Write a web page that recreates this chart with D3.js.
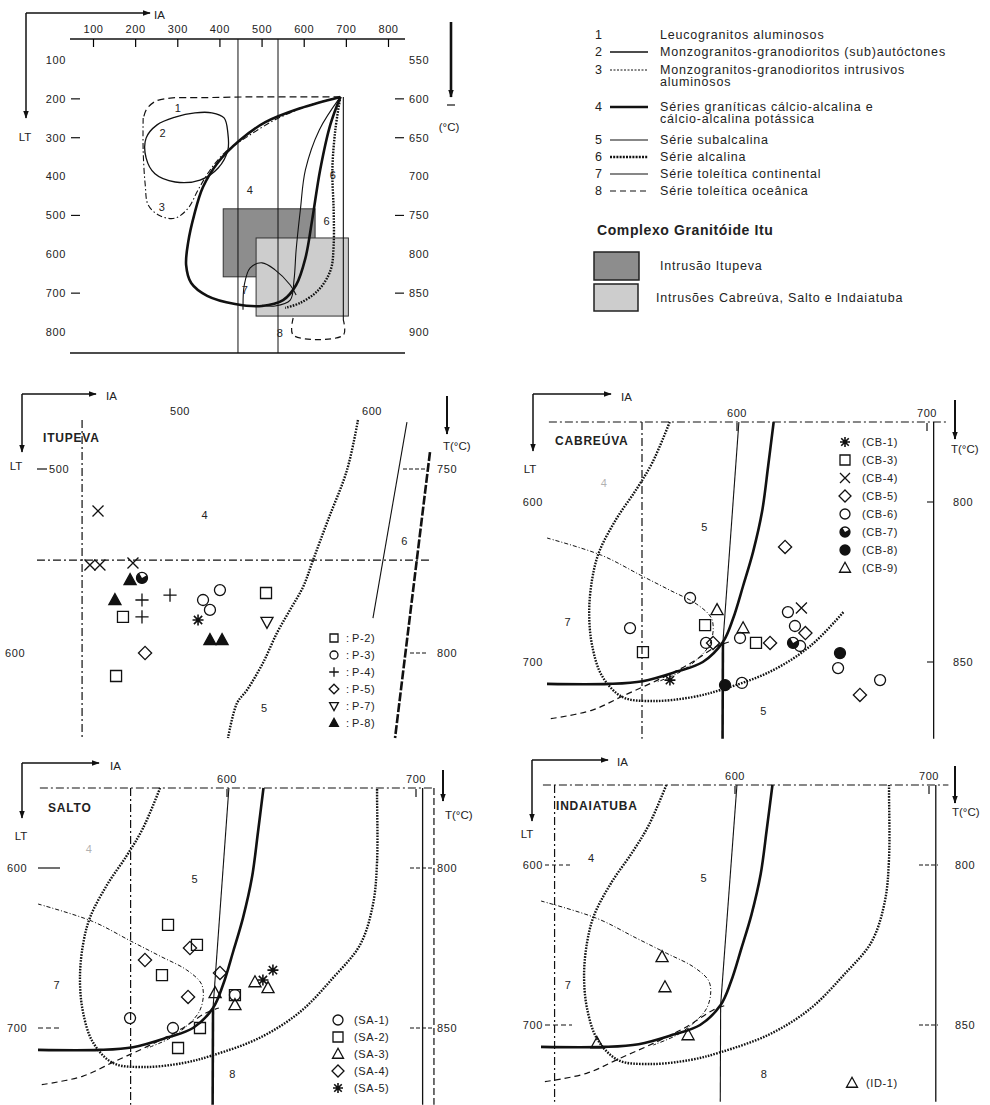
<!DOCTYPE html>
<html>
<head>
<meta charset="utf-8">
<title>Diagrama IA x LT - Complexo Granitóide Itu</title>
<script src="https://d3js.org/d3.v7.min.js"></script>
<style>
  body { margin: 0; background: #fff; }
  svg { font-family: "Liberation Sans", Arial, sans-serif; }
  text { fill: #222; }
  .num { font-size: 11px; letter-spacing: 0.6px; }
  .lab { font-size: 11.5px; }
  .title { font-size: 12px; font-weight: bold; letter-spacing: 0.8px; }
  .leg { font-size: 12.5px; letter-spacing: 0.8px; }
</style>
</head>
<body>
<div id="chart"></div>
<script>
// ---------- diagrama geral ----------
const iaTicks = [100, 200, 300, 400, 500, 600, 700, 800];
const ltTicks = [100, 200, 300, 400, 500, 600, 700, 800];
const tTicks = [550, 600, 650, 700, 750, 800, 850, 900];
const ltDashTicks = [200, 300, 500, 700];
const tDashTicks = [600, 650, 750, 850];
const zoomLimits = [444, 539];

const curve1 = [[687,195],[592,195],[473,195],[354,197],[283,198],[247,207],[226,229],[219,254]];
const curve2 = [[420,288],[411,249],[382,236],[342,236],[295,247],[252,267],[226,301],[226,352],[247,393],[295,414],[354,409],[397,378],[420,332]];
const curve3 = [[219,249],[219,332],[224,422],[231,473],[259,501],[295,507],[326,481],[349,435],[378,383],[414,337],[461,301],[532,254],[615,216],[687,195]];
const curve4 = [[687,195],[592,224],[509,260],[449,306],[397,363],[361,427],[340,499],[326,568],[321,628],[333,674],[371,707],[437,728],[501,733],[551,718],[582,679],[604,610],[620,512],[639,383],[663,267],[687,195]];
const curve5 = [[687,195],[637,280],[604,383],[592,486],[582,589],[577,666],[568,718],[532,733],[501,731]];
const curve6 = [[687,195],[675,280],[668,383],[671,486],[671,576],[664,640],[635,692],[592,725],[556,738]];
const curve7 = [[456,743],[459,679],[473,635],[501,622],[532,640],[568,679],[582,705]];
const curve8 = [[575,764],[575,808],[694,808],[694,769]];
const curve8edge = [[694,195],[694,769]];
const curveLabels = [['1',302,223],['2',266,288],['3',264,478],['4',473,435],['6',670,396],['6',655,516],['7',461,692],['8',544,802]];

const boxItupeva = { ia: [409, 627], lt: [483, 658] };
const boxOthers = { ia: [487, 706], lt: [558, 759] };

const seriesNums = ['1', '2', '3', '4', '5', '6', '7', '8'];
const seriesNames = [
  ['Leucogranitos aluminosos'],
  ['Monzogranitos-granodioritos (sub)autóctones'],
  ['Monzogranitos-granodioritos intrusivos', 'aluminosos'],
  ['Séries graníticas cálcio-alcalina e', 'cálcio-alcalina potássica'],
  ['Série subalcalina'],
  ['Série alcalina'],
  ['Série toleítica continental'],
  ['Série toleítica oceânica']
];
const intrusionNames = ['Intrusão Itupeva', 'Intrusões Cabreúva, Salto e Indaiatuba'];

// ---------- curvas de referência dos detalhes ----------
const refCurve4 = [[619.3,550],[616.4,577.5],[613.2,606],[608.5,631],[603.2,652.5],[597.9,673],[592.6,687.5],[582,700],[568.3,706],[550.3,712],[532.8,713.7],[500,713.7]];
const refCurve5 = [[601,550],[592.6,687.5]];
const refCurve5low = [[592.6,687.5],[592.4,748]];
const refCurve6 = [[564.6,550],[555.6,575],[547.1,592],[536.5,610.6],[527.5,631],[523.8,648],[522.2,669],[523.8,690],[529.1,709],[539.7,721.9],[555.6,724.4],[576.7,721.9],[592.6,717],[617.5,706],[638.6,690],[656,668.8],[670.4,648],[677.2,623],[679.4,596],[679.4,555.6],[679.4,550]];
const refCurve7 = [[500,622.5],[528.7,633.3],[549.3,645.8],[564.8,655.2],[578.5,663.6],[586.2,671.9],[587.5,679.2],[585.4,689.6],[578.5,698.9],[570,706.3],[557.9,712.5]];
const refCurve8 = [[502,735.4],[523.5,730.2],[540.7,720.8],[557.9,711.5],[575.1,701.1],[588.8,690.6],[595.7,687.5]];

// ---------- Itupeva ----------
const itupevaCurveDots = [[592.7,473.4],[587,500.5],[577.1,527.7],[569.3,549.5],[564.1,564.1],[557.3,576.6],[550.5,589.1],[543.2,605.4],[534.9,620.1],[529.7,627.2],[525,646.2]];
const itupevaCurveThin = [[618.2,474.5],[600.5,581]];
const itupevaCurveThick = [[630.2,490.8],[612,646.2]];
const itupevaLabels = [['4',513,525],['6',617,539],['5',544,630]];
const itupevaSamples = [
  { id: '(P-2)', sym: 'square', pts: [[470.3,580.4],[544.8,567.4],[466.7,612.5]] },
  { id: '(P-3)', sym: 'circle', pts: [[520.8,565.8],[515.6,576.6],[512,571.2]] },
  { id: '(P-4)', sym: 'plus', pts: [[480.2,571.2],[480.2,580.4],[494.8,568.5]] },
  { id: '(P-5)', sym: 'diamond', pts: [[481.8,600]] },
  { id: '(P-7)', sym: 'triDown', pts: [[545.3,583.2]] },
  { id: '(P-8)', sym: 'triF', pts: [[474,560.3],[466.1,571.2],[515.6,592.9],[521.9,592.9]] },
  { id: null, sym: 'cross', pts: [[457.3,522.8],[453.1,552.2],[458.3,552.2],[475.5,551.1]] },
  { id: null, sym: 'star', pts: [[509.4,582.1]] },
  { id: null, sym: 'half', pts: [[480.2,559.2]] }
];

// ---------- Cabreúva ----------
const cabreuvaLabels = [['5',583,616],['7',511,675],['5',614,731],['4',530,588]];
const cabreuvaSamples = [
  { id: '(CB-1)', sym: 'star', pts: [[564.7,711.3]] },
  { id: '(CB-3)', sym: 'square', pts: [[583.2,676.9],[550.5,693.8],[610,688.1]] },
  { id: '(CB-4)', sym: 'cross', pts: [[633.9,666.3]] },
  { id: '(CB-5)', sym: 'diamond', pts: [[587.4,688.1],[617.4,688.1],[636,681.9],[625.3,628.1],[664.7,720.6]] },
  { id: '(CB-6)', sym: 'circle', pts: [[575.3,660],[543.7,678.8],[583.7,688.1],[601.6,685],[626.8,668.8],[630.5,677.5],[633.2,690],[653.2,703.8],[675.3,711.3],[602.6,713.1]] },
  { id: '(CB-7)', sym: 'half', pts: [[629.5,688.1]] },
  { id: '(CB-8)', sym: 'dot', pts: [[654.2,694.4],[593.7,714.4]] },
  { id: '(CB-9)', sym: 'tri', pts: [[589.5,667.5],[603.2,678.8]] }
];

// ---------- Salto ----------
const saltoLabels = [['5',583,607],['7',510,673],['8',603,729],['4',527,588]];
const saltoSamples = [
  { id: '(SA-1)', sym: 'circle', pts: [[548.7,693.8],[571.4,700],[604.2,679.4]] },
  { id: '(SA-2)', sym: 'square', pts: [[568.8,635.6],[584.1,648.1],[565.6,666.9],[604.2,679.4],[585.7,700],[574.1,712.5]] },
  { id: '(SA-3)', sym: 'tri', pts: [[593.7,678.1],[604.2,685.6],[614.8,671.3],[621.7,675]] },
  { id: '(SA-4)', sym: 'diamond', pts: [[580.4,650],[556.6,657.5],[579.4,680.6],[596.3,665.6]] },
  { id: '(SA-5)', sym: 'star', pts: [[619,670],[624.3,663.8]] }
];

// ---------- Indaiatuba ----------
const indaiatubaLabels = [['4',526,596],['5',584,608],['7',514,675],['8',615,731]];
const indaiatubaSamples = [
  { id: '(ID-1)', sym: 'tri', pts: [[562.4,657.5],[563.9,676.3],[575.8,706.3],[528.9,711.3]] }
];

// =====================================================================
const svg = d3.select('#chart').append('svg').attr('width', 990).attr('height', 1105);
const defs = svg.append('defs');
defs.append('marker').attr('id', 'arr').attr('viewBox', '0 0 10 10')
  .attr('refX', 9).attr('refY', 5).attr('markerUnits', 'userSpaceOnUse')
  .attr('markerWidth', 8).attr('markerHeight', 8).attr('orient', 'auto')
  .append('path').attr('d', 'M0,1.5 L10,5 L0,8.5 Z').attr('fill', '#111');

const styles = {
  s1: { w: 1.2, dash: '7,4' },
  s2: { w: 1.3, dash: null },
  s3: { w: 1.1, dash: '6,2.5,1.5,2.5' },
  s4: { w: 2.6, dash: null },
  s5: { w: 1.1, dash: null },
  s6: { w: 2.4, dash: '1.6,1.3' },
  s7: { w: 1.0, dash: '4,2,1,2' },
  s8: { w: 1.2, dash: '6,4' },
  frame: { w: 1.2, dash: '8,3,2,3' }
};

function drawPath(g, pts, xs, ys, st, closed) {
  const gen = d3.line().x(d => xs(d[0])).y(d => ys(d[1]))
    .curve(closed ? d3.curveCatmullRomClosed.alpha(0.5) : d3.curveCatmullRom.alpha(0.5));
  g.append('path').attr('d', gen(pts)).attr('fill', 'none')
    .attr('stroke', '#111').attr('stroke-width', st.w)
    .attr('stroke-dasharray', st.dash).attr('stroke-linejoin', 'round');
}

function seg(g, x1, y1, x2, y2, w, dash) {
  return g.append('line').attr('x1', x1).attr('y1', y1).attr('x2', x2).attr('y2', y2)
    .attr('stroke', '#111').attr('stroke-width', w || 1.2).attr('stroke-dasharray', dash || null);
}

function txt(g, s, x, y, cls, anchor) {
  return g.append('text').attr('x', x).attr('y', y).attr('class', cls || 'num')
    .attr('text-anchor', anchor || 'start').attr('dy', '0.35em').text(s);
}

function symPath(type, k) {
  switch (type) {
    case 'square': return `M${-k},${-k}H${k}V${k}H${-k}Z`;
    case 'circle': case 'dot': case 'half':
      return `M${k},0A${k},${k} 0 1,1 ${-k},0A${k},${k} 0 1,1 ${k},0Z`;
    case 'tri': case 'triF': return `M0,${-1.15 * k}L${1.1 * k},${0.85 * k}H${-1.1 * k}Z`;
    case 'triDown': return `M0,${1.15 * k}L${1.1 * k},${-0.85 * k}H${-1.1 * k}Z`;
    case 'diamond': return `M0,${-1.2 * k}L${1.2 * k},0L0,${1.2 * k}L${-1.2 * k},0Z`;
    case 'cross': return `M${-k},${-k}L${k},${k}M${k},${-k}L${-k},${k}`;
    case 'plus': return `M0,${-1.2 * k}V${1.2 * k}M${-1.2 * k},0H${1.2 * k}`;
    case 'star': {
      const a = 0.75 * k;
      return `M0,${-k}V${k}M${-k},0H${k}M${-a},${-a}L${a},${a}M${a},${-a}L${-a},${a}`;
    }
  }
}

function drawSym(g, type, x, y, r) {
  const filled = type === 'dot' || type === 'triF';
  g.append('path').attr('transform', `translate(${x},${y})`).attr('d', symPath(type, r))
    .attr('fill', filled ? '#111' : 'none').attr('stroke', '#111')
    .attr('stroke-width', type === 'star' ? 1.6 : 1.3);
  if (type === 'half') {
    g.append('path').attr('transform', `translate(${x},${y}) rotate(-30)`)
      .attr('d', `M0,${-r}A${r},${r} 0 1,0 ${r},0L0,0Z`).attr('fill', '#111');
  }
}

function cornerAxes(g, c) {
  seg(g, c.x, c.y, c.hx, c.y, 1.5).attr('marker-end', 'url(#arr)');
  seg(g, c.x, c.y, c.x, c.vy, 1.5).attr('marker-end', 'url(#arr)');
  txt(g, 'IA', c.ia[0], c.ia[1], 'lab');
  txt(g, 'LT', c.lt[0], c.lt[1], 'lab', 'middle');
}

function tArrow(g, x, y1, y2, lx, ly) {
  seg(g, x, y1, x, y2, 2).attr('marker-end', 'url(#arr)');
  txt(g, 'T(°C)', lx, ly, 'lab');
}

// ---------- painel superior ----------
const mainG = svg.append('g');
const xTop = d3.scaleLinear().domain([100, 800]).range([93, 388]);
const yTop = d3.scaleLinear().domain([100, 800]).range([60, 332]);
const tTop = d3.scaleLinear().domain([550, 900]).range([60, 332]);

[boxItupeva, boxOthers].forEach((b, i) => {
  mainG.append('rect')
    .attr('x', xTop(b.ia[0])).attr('y', yTop(b.lt[0]))
    .attr('width', xTop(b.ia[1]) - xTop(b.ia[0])).attr('height', yTop(b.lt[1]) - yTop(b.lt[0]))
    .attr('fill', i === 0 ? '#8d8d8d' : '#cdcdcd').attr('stroke', '#333').attr('stroke-width', 1);
});

seg(mainG, 70, 39, 405, 39, 1.3);
seg(mainG, 70, 353, 405, 353, 1.3);
zoomLimits.forEach(v => seg(mainG, xTop(v), 39, xTop(v), 353, 1));

const axTop = mainG.append('g').attr('transform', 'translate(0,39)')
  .call(d3.axisTop(xTop).tickValues(iaTicks).tickSizeInner(-8).tickSizeOuter(0).tickPadding(6));
axTop.select('.domain').remove();
axTop.selectAll('text').attr('class', 'num').style('font-size', '11px').attr('fill', '#222');
axTop.selectAll('line').attr('stroke-width', 1.2);

ltTicks.forEach(v => txt(mainG, v, 66, yTop(v), 'num', 'end'));
ltDashTicks.forEach(v => seg(mainG, 71, yTop(v), 80, yTop(v), 1.2));
tTicks.forEach(v => txt(mainG, v, 409, tTop(v), 'num'));
tDashTicks.forEach(v => seg(mainG, 395, tTop(v), 404, tTop(v), 1.2));

drawPath(mainG, curve2, xTop, yTop, styles.s2, true);
drawPath(mainG, curve1, xTop, yTop, styles.s1);
drawPath(mainG, curve3, xTop, yTop, styles.s3);
drawPath(mainG, curve4, xTop, yTop, styles.s4);
drawPath(mainG, curve5, xTop, yTop, styles.s5);
drawPath(mainG, curve6, xTop, yTop, styles.s6);
drawPath(mainG, curve7, xTop, yTop, styles.s5);
drawPath(mainG, curve8, xTop, yTop, styles.s8);
drawPath(mainG, curve8edge, xTop, yTop, styles.s5);
curveLabels.forEach(d => txt(mainG, d[0], xTop(d[1]), yTop(d[2]), 'num', 'middle'));

cornerAxes(mainG, { x: 26, y: 13, hx: 150, vy: 118, ia: [154, 15], lt: [25, 137] });
seg(mainG, 451, 22, 451, 97, 2.6).attr('marker-end', 'url(#arr)');
seg(mainG, 447, 105, 455, 105, 1.2);
txt(mainG, '(°C)', 449, 127, 'lab', 'middle');

// ---------- legenda ----------
const leg = svg.append('g');
const legRows = [35, 52, 70, 107, 140, 157, 174, 191];
const legStyles = [null, styles.s2, { w: 1, dash: '2,1.5' }, styles.s4, styles.s5, { w: 2.6, dash: '2,1.2' }, styles.s5, styles.s8];
seriesNums.forEach((n, i) => {
  txt(leg, n, 599, legRows[i], 'leg', 'middle');
  if (legStyles[i]) seg(leg, 610, legRows[i], 648, legRows[i], legStyles[i].w, legStyles[i].dash);
  seriesNames[i].forEach((s, j) => txt(leg, s, 660, legRows[i] + j * 12, 'leg'));
});
txt(leg, 'Complexo Granitóide Itu', 597, 230, 'title').style('font-size', '14px').style('letter-spacing', '0.6px');
leg.append('rect').attr('x', 594).attr('y', 252).attr('width', 45).attr('height', 28)
  .attr('fill', '#8d8d8d').attr('stroke', '#222').attr('stroke-width', 1.5);
leg.append('rect').attr('x', 594).attr('y', 284).attr('width', 44).attr('height', 27)
  .attr('fill', '#cdcdcd').attr('stroke', '#222').attr('stroke-width', 1.5);
txt(leg, intrusionNames[0], 660, 266, 'leg');
txt(leg, intrusionNames[1], 656, 298, 'leg');

// ---------- Itupeva ----------
const itu = svg.append('g');
const xI = d3.scaleLinear().domain([500, 600]).range([180, 372]);
const yI = d3.scaleLinear().domain([500, 600]).range([469, 653]);
const tI = d3.scaleLinear().domain([750, 800]).range([469, 653]);
cornerAxes(itu, { x: 22, y: 394, hx: 96, vy: 452, ia: [106, 396], lt: [16, 466] });
[500, 600].forEach(v => txt(itu, v, xI(v), 411, 'num', 'middle'));
txt(itu, 'ITUPEVA', 43, 438, 'title');
seg(itu, xI(449), yI(473.4), xI(449), yI(646.2), styles.frame.w, styles.frame.dash);
seg(itu, xI(425.5), yI(549.5), xI(630.2), yI(549.5), styles.frame.w, styles.frame.dash);
seg(itu, 37, yI(500), 47, yI(500), 1.2);
txt(itu, 500, 49, yI(500), 'num');
txt(itu, 600, 5, yI(600), 'num');
[750, 800].forEach((v, i) => {
  seg(itu, i ? 410 : 403, tI(v), 428, tI(v), 1, '4,2');
  txt(itu, v, 437, tI(v), 'num');
});
tArrow(itu, 447, 396, 434, 443, 446);
drawPath(itu, itupevaCurveDots, xI, yI, styles.s6);
drawPath(itu, itupevaCurveThin, xI, yI, styles.s5);
drawPath(itu, itupevaCurveThick, xI, yI, { w: 2.6, dash: '9,2' });
itupevaLabels.forEach(d => txt(itu, d[0], xI(d[1]), yI(d[2]), 'num', 'middle'));
itupevaSamples.forEach(s => s.pts.forEach(p => drawSym(itu, s.sym, xI(p[0]), yI(p[1]), 5.5)));
itupevaSamples.filter(s => s.id).forEach((s, i) => {
  const yy = 638 + i * 17;
  drawSym(itu, s.sym, 334, yy, 4);
  txt(itu, ':', 346, yy, 'num');
  txt(itu, s.id.replace('(', ''), 352, yy, 'num');
});

// ---------- Cabreúva, Salto, Indaiatuba ----------
const panels = [
  {
    name: 'CABREÚVA', labels: cabreuvaLabels, samples: cabreuvaSamples,
    xr: [737, 927], yr: [502, 662], leftLine: 550, dotsEnd: 16, thickLow: true, extraDash: false,
    corner: { x: 533, y: 394, hx: 611, vy: 451, ia: [621, 397], lt: [530, 469] },
    title: [555, 441], lt: { x: 543, anchor: 'end', dash: null },
    t: { tick: [927, 934], x: 953, arrow: [955, 400, 439], lab: [951, 449] },
    legend: { x: 845, tx: 862, y: 442, dy: 18 }
  },
  {
    name: 'SALTO', labels: saltoLabels, samples: saltoSamples,
    xr: [227, 416], yr: [868, 1028], leftLine: 549, dotsEnd: null, thickLow: true, extraDash: true,
    corner: { x: 22, y: 763, hx: 99, vy: 818, ia: [110, 766], lt: [21, 836] },
    title: [48, 808], lt: { x: 7, anchor: 'start', dash: [38, 60] },
    t: { tick: [410, 433], x: 437, arrow: [443, 770, 801], lab: [445, 815] },
    legend: { x: 338, tx: 354, y: 1020, dy: 17 }
  },
  {
    name: 'INDAIATUBA', labels: indaiatubaLabels, samples: indaiatubaSamples,
    xr: [735, 929], yr: [865, 1025], leftLine: 507, dotsEnd: null, thickLow: false, extraDash: false,
    corner: { x: 532, y: 760, hx: 608, vy: 821, ia: [617, 762], lt: [527, 834] },
    title: [556, 806], lt: { x: 543, anchor: 'end', dash: [545, 572] },
    t: { tick: [919, 938], x: 955, arrow: [955, 766, 803], lab: [952, 812] },
    legend: { x: 852, tx: 866, y: 1083, dy: 17 }
  }
];

panels.forEach(p => {
  const g = svg.append('g');
  const x = d3.scaleLinear().domain([600, 700]).range(p.xr);
  const y = d3.scaleLinear().domain([600, 700]).range(p.yr);
  const t = d3.scaleLinear().domain([800, 850]).range(p.yr);

  cornerAxes(g, p.corner);
  txt(g, p.name, p.title[0], p.title[1], 'title');

  // moldura
  seg(g, x(501), y(550), x(710), y(550), styles.frame.w, styles.frame.dash);
  seg(g, x(p.leftLine), y(550), x(p.leftLine), y(748), styles.frame.w, styles.frame.dash);
  seg(g, x(703.5), y(550), x(703.5), y(748), 1.3);
  if (p.extraDash) seg(g, x(709.5), y(550), x(709.5), y(748), 1.2, '7,3');
  [600, 700].forEach(v => {
    txt(g, v, x(v), y(550) - 9, 'num', 'middle');
    seg(g, x(v), y(550) + 1, x(v), y(550) + 9, 1.2);
  });
  [600, 700].forEach((v, i) => {
    txt(g, v, p.lt.x, y(v), 'num', p.lt.anchor);
    if (p.lt.dash) seg(g, p.lt.dash[0], y(v), p.lt.dash[1], y(v), 1.2, i ? '5,3' : (p.name === 'SALTO' ? null : '4,3'));
  });
  [800, 850].forEach(v => {
    seg(g, p.t.tick[0], t(v), p.t.tick[1], t(v), 1.1, p.name === 'CABREÚVA' ? null : '4,2');
    txt(g, v, p.t.x, t(v), 'num');
  });
  tArrow(g, p.t.arrow[0], p.t.arrow[1], p.t.arrow[2], p.t.lab[0], p.t.lab[1]);

  // curvas de referência
  const dots = p.dotsEnd ? refCurve6.slice(0, p.dotsEnd) : refCurve6;
  drawPath(g, dots, x, y, styles.s6);
  drawPath(g, refCurve7, x, y, styles.s7);
  drawPath(g, refCurve8, x, y, styles.s8);
  drawPath(g, refCurve5, x, y, styles.s5);
  drawPath(g, refCurve5low, x, y, p.thickLow ? styles.s4 : styles.s5);
  drawPath(g, refCurve4, x, y, styles.s4);
  p.labels.forEach(d => txt(g, d[0], x(d[1]), y(d[2]), 'num', 'middle')
    .style('opacity', d[0] === '4' && p.name !== 'INDAIATUBA' ? 0.35 : 1));

  // amostras
  p.samples.forEach(s => s.pts.forEach(q => drawSym(g, s.sym, x(q[0]), y(q[1]), 5.5)));
  p.samples.forEach((s, i) => {
    const yy = p.legend.y + i * p.legend.dy;
    drawSym(g, s.sym, p.legend.x, yy, 5);
    txt(g, s.id, p.legend.tx, yy, 'num');
  });
});
</script>
</body>
</html>
